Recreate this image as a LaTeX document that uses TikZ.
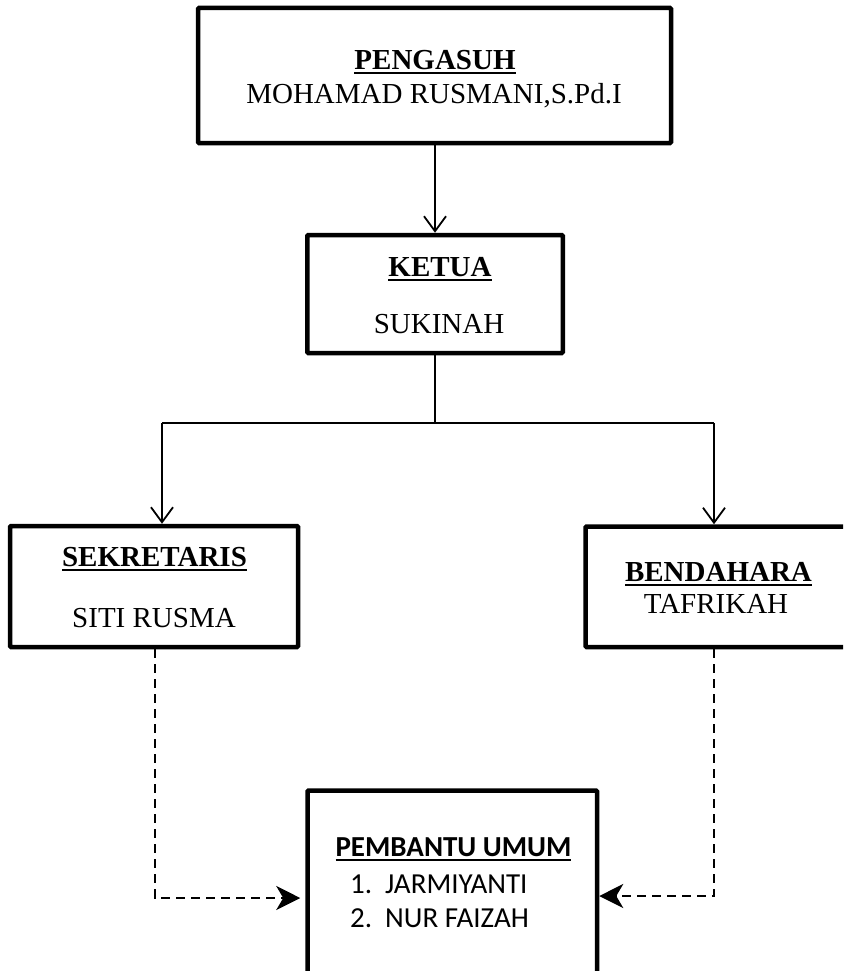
\documentclass[tikz,border=0pt]{standalone}
\usepackage{fontspec}
\setmainfont{Liberation Serif}
\newfontfamily\calibfont{Carlito}
\usetikzlibrary{arrows.meta}
\newcommand{\myul}[1]{\setbox0\hbox{#1}\rlap{\rule[-4.5pt]{\wd0}{2pt}}\box0}
\tikzset{
  orgbox/.style={draw, line width=4.5pt, inner sep=0pt, rounded corners=1pt},
  txt/.style={anchor=base, inner sep=0pt, font=\fontsize{29pt}{34pt}\selectfont},
  txtl/.style={anchor=base west, inner sep=0pt, font=\calibfont\fontsize{29pt}{34pt}\selectfont},
  solidarrow/.style={line width=1.8pt, -{Straight Barb[length=15pt,width=22pt]}},
  solidline/.style={line width=1.8pt},
  dasharrow/.style={line width=2pt, dash pattern=on 9pt off 6pt, -{Stealth[length=24pt,width=24pt,inset=7pt]}}
}
\begin{document}
\begin{tikzpicture}[x=1pt,y=-1pt]
\useasboundingbox (0,0) rectangle (843,971);
\clip (0,0) rectangle (843,971);
\fill[white] (0,0) rectangle (843,971);

% boxes
\node[orgbox, minimum width=473pt, minimum height=135pt] (top) at (434.5,75.5) {};
\node[orgbox, minimum width=255.5pt, minimum height=118pt] (ketua) at (435,294) {};
\node[orgbox, minimum width=288pt, minimum height=121pt] (sek) at (154,586.5) {};
\node[orgbox, minimum width=284.5pt, minimum height=120.5pt] (ben) at (727.75,586.75) {};
\node[orgbox, minimum width=289.5pt, minimum height=219.5pt] (pemb) at (452.25,900.25) {};

% texts
\node[txt] (t1) at (435,70) {\bfseries\myul{PENGASUH}};
\node[txt] (t2) at (434,103) {MOHAMAD RUSMANI,S.Pd.I};
\node[txt] (k1) at (440,276) {\bfseries\myul{KETUA}};
\node[txt] (k2) at (439,333) {SUKINAH};
\node[txt] (s1) at (154.5,566) {\bfseries\myul{SEKRETARIS}};
\node[txt] (s2) at (154,627) {SITI RUSMA};
\node[txt] (b1) at (718.5,581) {\bfseries\myul{BENDAHARA}};
\node[txt] (b2) at (716,613) {TAFRIKAH};
\node[txt, font=\calibfont\fontsize{29pt}{34pt}\selectfont] (p1) at (453.5,856) {\bfseries\myul{PEMBANTU UMUM}};
\node[txtl] (p2) at (350,893) {\makebox[35pt][l]{1.}JARMIYANTI};
\node[txtl] (p3) at (350,927) {\makebox[35pt][l]{2.}NUR FAIZAH};

% connectors
\draw[solidarrow] (top.south -| ketua.north) -- (ketua.north);
\coordinate (bar) at (435,423);
\coordinate (sl) at (162,423);
\coordinate (sr) at (714,423);
\draw[solidline] (ketua.south) -- (bar);
\draw[solidline] (sl) -- (sr);
\draw[solidarrow] (sl) -- (sl |- sek.north);
\draw[solidarrow] (sr) -- (sr |- ben.north);

\coordinate (dl) at (155,898);
\coordinate (dr) at (714,896);
\draw[dasharrow] (sek.south -| dl) -- (dl) -- ([xshift=-5pt]dl -| pemb.west);
\draw[dasharrow] (ben.south -| dr) -- (dr) -- (dr -| pemb.east);
\end{tikzpicture}
\end{document}
